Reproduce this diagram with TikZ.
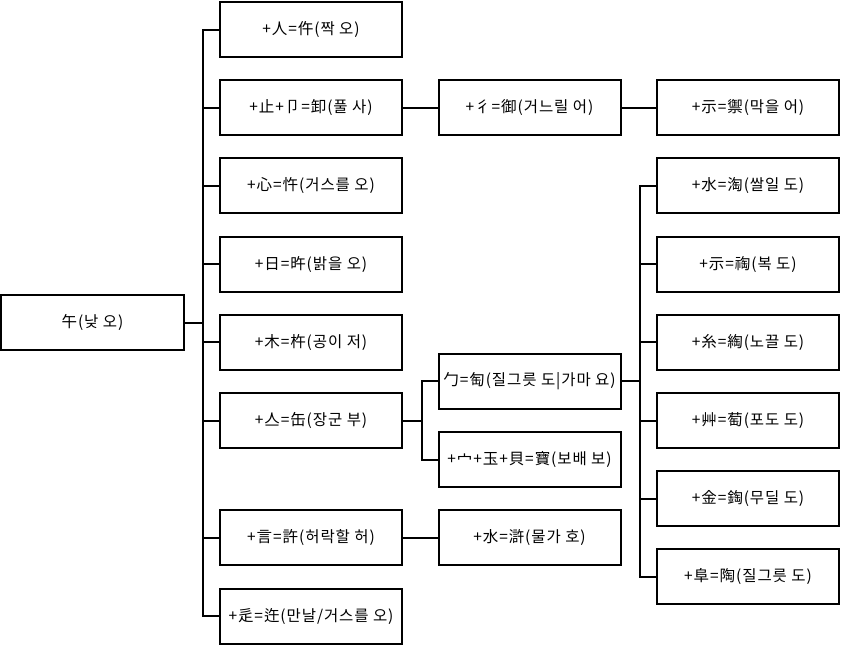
\documentclass[tikz,border=0pt]{standalone}
\usepackage{fontspec}
\setmainfont[LetterSpace=6]{Noto Sans CJK KR}
\usepackage{tikz}
\usetikzlibrary{positioning,calc}

\begin{document}
\begin{tikzpicture}[x=1pt,y=1pt,node distance=23.2pt and 36.5pt,
  box/.style={draw,line width=2pt,minimum width=182pt,minimum height=55pt,inner sep=0pt,outer sep=0pt,font=\fontsize{15.5}{18}\selectfont},
  link/.style={line width=2pt}]
\useasboundingbox (0,0) rectangle (842,-646);
% level 1
\node[box] (a1) at (311,-29.5) {+人=仵(짝 오)};
\node[box,below=of a1] (a2) {+止+卩=卸(풀 사)};
\node[box,below=of a2] (a3) {+心=忤(거스를 오)};
\node[box,below=of a3] (a4) {+日=旿(밝을 오)};
\node[box,below=of a4] (a5) {+木=杵(공이 저)};
\node[box,below=of a5] (a6) {+亼=缶(장군 부)};
% level 2 and 3
\node[box,right=of a2] (b1) {+彳=御(거느릴 어)};
\node[box,right=of b1] (c1) {+示=禦(막을 어)};
\node[box] (c2) at (c1 |- a3) {+水=淘(쌀일 도)};
\node[box,below=of c2] (c3) {+示=祹(복 도)};
\node[box,below=of c3] (c4) {+糸=綯(노끌 도)};
\node[box,below=of c4] (c5) {+艸=萄(포도 도)};
\node[box,below=of c5] (c6) {+金=鋾(무딜 도)};
\node[box,below=of c6] (c7) {+阜=陶(질그릇 도)};
\coordinate (mc) at ($(c2)!0.5!(c7)$);
\node[box] (b2) at (b1 |- mc) {勹=匋(질그릇 도|가마 요)};
\node[box,below=of b2] (b3) {+宀+玉+貝=寶(보배 보)};
\node[box,below=of b3] (b4) {+水=滸(물가 호)};
\node[box,left=of b4] (a7) {+言=許(허락할 허)};
\node[box,below=of a7] (a8) {+辵=迕(만날/거스를 오)};
% root
\coordinate (ma) at ($(a1)!0.5!(a8)$);
\node[box,minimum width=183pt] (root) at ($(ma)+(-218.5,0)$) {午(낮 오)};
% connectors
\coordinate (ja) at ($(root.east)+(19,0)$);
\draw[link] (root.east) -- (ja);
\foreach \n in {a1,a2,a3,a4,a5,a6,a7,a8}
  \draw[link] (ja) |- (\n.west);
\draw[link] (a2) -- (b1);
\draw[link] (b1) -- (c1);
\draw[link] (a7) -- (b4);
\coordinate (jb) at ($(a6.east)+(19.5,0)$);
\draw[link] (a6.east) -- (jb);
\foreach \n in {b2,b3}
  \draw[link] (jb) |- (\n.west);
\coordinate (jc) at ($(b2.east)+(19.5,0)$);
\draw[link] (b2.east) -- (jc);
\foreach \n in {c2,c3,c4,c5,c6,c7}
  \draw[link] (jc) |- (\n.west);
\end{tikzpicture}
\end{document}
